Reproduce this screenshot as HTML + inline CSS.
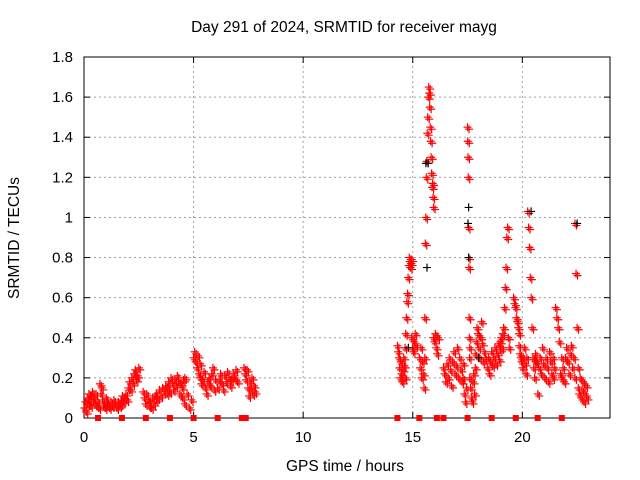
<!DOCTYPE html>
<html><head><meta charset="utf-8">
<style>
html,body{margin:0;padding:0;background:#fff;}
svg{display:block;font-family:"Liberation Sans",sans-serif;}
</style></head>
<body>
<svg id="chart" width="640" height="480" viewBox="0 0 640 480">
  <text x="344" y="32" font-size="15.5" text-anchor="middle">Day 291 of 2024, SRMTID for receiver mayg</text>
  <text x="0" y="0" font-size="15.5" text-anchor="middle" transform="translate(19,238) rotate(-90)">SRMTID / TECUs</text>
  <text x="345" y="471" font-size="15.5" text-anchor="middle">GPS time / hours</text>
  <g id="grid"></g>
  <g id="axes"></g>
  <g id="marks"></g>
</svg>
<script>
const xTicks = [0, 5, 10, 15, 20];
const yTicks = [0, 0.2, 0.4, 0.6, 0.8, 1, 1.2, 1.4, 1.6, 1.8];
const yTickLabels = ["0","0.2","0.4","0.6","0.8","1","1.2","1.4","1.6","1.8"];
const segStart = [0.02,0.6,1.1,1.7,2.7,3.3,3.8,4.5,5.0,5.3,6.1,7.3,14.3,14.65,14.95,15.3,15.55,15.95,16.4,17.3,17.5,17.6,17.85,18.4,19.0,19.6,19.85,20.6,21.4,21.8,22.4,22.55];
const segEnd   = [0.55,1.1,1.7,2.5,3.3,3.8,4.6,4.9,5.3,6.0,7.0,7.8,14.65,14.95,15.15,15.55,15.95,16.15,17.3,17.45,17.6,17.85,18.3,19.0,19.4,19.85,20.6,21.4,21.8,22.4,22.55,22.95];
const segVals = [
 [0.05,0.08,0.03,0.1,0.07,0.12,0.09,0.06,0.11,0.13,0.08,0.1,0.07,0.12],
 [0.06,0.08,0.05,0.17,0.12,0.15,0.09,0.06,0.07,0.05,0.1,0.08,0.06],
 [0.07,0.05,0.08,0.06,0.09,0.07,0.05,0.08,0.06,0.07],
 [0.09,0.11,0.08,0.1,0.12,0.09,0.15,0.18,0.14,0.2,0.17,0.22,0.24,0.19,0.21,0.25],
 [0.13,0.1,0.07,0.12,0.09,0.06,0.08,0.05,0.1,0.07,0.11,0.09],
 [0.12,0.1,0.14,0.11,0.15,0.13,0.16,0.12],
 [0.15,0.18,0.13,0.2,0.17,0.14,0.19,0.16,0.21,0.18,0.12,0.17,0.15,0.19,0.2],
 [0.1,0.07,0.12,0.05,0.09],
 [0.3,0.33,0.28,0.25,0.31,0.22,0.27],
 [0.2,0.17,0.19,0.23,0.15,0.12,0.18,0.2,0.16,0.22,0.25,0.14,0.19],
 [0.15,0.19,0.22,0.17,0.14,0.21,0.18,0.23,0.2,0.16,0.19,0.22,0.2,0.24,0.18],
 [0.25,0.22,0.19,0.24,0.15,0.11,0.18,0.14,0.2,0.12,0.16,0.13],
 [0.36,0.33,0.3,0.25,0.2,0.28,0.22,0.18,0.24,0.3,0.26,0.2],
 [0.35,0.42,0.5,0.58,0.62,0.7,0.76,0.8,0.78,0.75,0.77,0.79],
 [0.4,0.35,0.33,0.38,0.42,0.36],
 [0.3,0.25,0.35,0.2,0.28,0.22,0.15,0.3],
 [0.5,0.87,1.0,1.2,1.28,1.42,1.5,1.6,1.65,1.62,1.55,1.45,1.38,1.3,1.22,1.15,1.17,1.1,1.05],
 [0.4,0.38,0.42,0.35,0.32,0.4],
 [0.25,0.22,0.18,0.27,0.2,0.3,0.24,0.16,0.28,0.33,0.22,0.26,0.35,0.2,0.3,0.24,0.18,0.27],
 [0.2,0.12,0.08,0.15],
 [1.45,1.38,1.3,1.2,0.95,0.8,0.75,0.5,0.4,0.3,0.35],
 [0.2,0.15,0.1,0.08,0.18,0.22,0.12,0.25],
 [0.32,0.38,0.45,0.42,0.35,0.3,0.4,0.48,0.37,0.28,0.33,0.3],
 [0.25,0.3,0.22,0.28,0.33,0.26,0.3,0.35,0.27,0.32,0.37,0.29,0.34],
 [0.38,0.4,0.35,0.42,0.45,0.55,0.65,0.75,0.9,0.95,0.4,0.35],
 [0.6,0.57,0.55,0.5,0.48,0.45,0.42],
 [0.36,0.32,0.3,0.28,0.25,0.3,0.35,0.27,0.22,0.3,1.03,0.95,0.85,0.7,0.6,0.45,0.3,0.25,0.2,0.28],
 [0.32,0.28,0.12,0.25,0.3,0.22,0.35,0.27,0.2,0.3,0.25,0.18,0.33,0.28,0.22,0.3],
 [0.2,0.25,0.55,0.5,0.45,0.38,0.22,0.3],
 [0.2,0.25,0.18,0.3,0.35,0.28,0.22,0.32,0.36,0.25,0.3,0.2],
 [0.97,0.72,0.45,0.25],
 [0.15,0.12,0.2,0.1,0.14,0.18,0.08,0.12,0.16,0.1]
];
const blackTimes = [15.6,15.7,15.65,17.55,17.52,17.55,20.4,22.5,14.8,18.0];
const blackVals  = [1.27,1.27,0.75,1.05,0.97,0.8,1.03,0.97,0.35,0.3];
const squareTimes = [0.64,1.73,2.82,3.92,5.0,6.1,7.2,7.38,14.3,15.3,16.1,16.4,17.5,18.6,19.7,20.7,21.8];

const X0=84, X1=610, Y0=418, Y1=57, XMAX=24, YMAX=1.8;
const xs = t => X0 + (X1-X0)*t/XMAX;
const ys = v => Y0 - (Y0-Y1)*v/YMAX;
const NS="http://www.w3.org/2000/svg";
function mk(tag, attrs, parent){const e=document.createElementNS(NS,tag);for(const k in attrs)e.setAttribute(k,attrs[k]);parent.appendChild(e);return e;}
const grid=document.getElementById('grid'), axes=document.getElementById('axes'), marks=document.getElementById('marks');

yTicks.forEach((v,i)=>{
  const y=ys(v);
  if(i>0 && i<yTicks.length-1){
    const g=mk('line',{x1:X0,x2:X1,y1:y,y2:y,stroke:'#a0a0a0','stroke-dasharray':'2,3','stroke-width':1},grid);
    
    
  }
  mk('line',{x1:X0,x2:X0+6,y1:y,y2:y,stroke:'#000'},axes);
  mk('line',{x1:X1,x2:X1-6,y1:y,y2:y,stroke:'#000'},axes);
  const t=mk('text',{x:X0-11,y:y+5,'font-size':15,'text-anchor':'end'},axes);
  t.textContent=yTickLabels[i];
  
  
});
xTicks.forEach(v=>{
  const x=xs(v);
  if(v>0){
    const g=mk('line',{x1:x,x2:x,y1:Y0,y2:Y1,stroke:'#a0a0a0','stroke-dasharray':'2,3','stroke-width':1},grid);
    
    
  }
  mk('line',{x1:x,x2:x,y1:Y0,y2:Y0-6,stroke:'#000'},axes);
  mk('line',{x1:x,x2:x,y1:Y1,y2:Y1+6,stroke:'#000'},axes);
  const t=mk('text',{x:x,y:Y0+24,'font-size':15,'text-anchor':'middle'},axes);
  t.textContent=String(v);
  
  
});
const frame=mk('rect',{x:X0,y:Y1,width:X1-X0,height:Y0-Y1,fill:'none',stroke:'#000','stroke-width':1},axes);



function plus(x,y,color){
  const p=mk('path',{d:`M${x-4},${y}h8M${x},${y-4}v8`,stroke:color,'stroke-width':1.2,fill:'none'},marks);
  
  
}
segVals.forEach((vals,s)=>{
  const n=vals.length;
  vals.forEach((v,i)=>{
    const t=segStart[s]+(segEnd[s]-segStart[s])*(n>1?i/(n-1):0);
    plus(xs(t),ys(v),'#ff0000');
    plus(xs(t)+1.5,ys(v)+2,'#ff0000');
  });
});
blackTimes.forEach((t,i)=>plus(xs(t),ys(blackVals[i]),'#000'));
squareTimes.forEach(t=>{
  const r=mk('rect',{x:xs(t)-3,y:Y0-3,width:6,height:6,fill:'#ff0000'},marks);
  
  
});
</script>
</body></html>
